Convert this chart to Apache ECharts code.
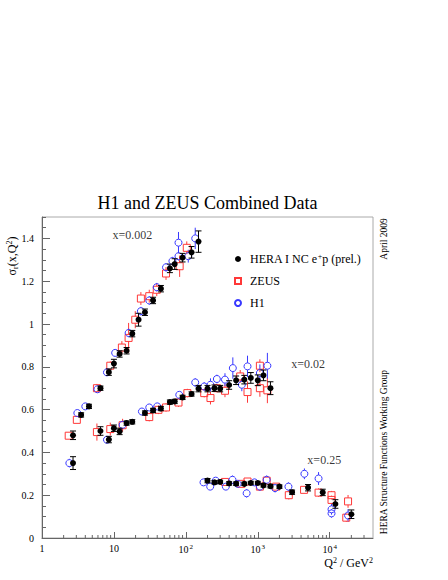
<!DOCTYPE html>
<html><head><meta charset="utf-8">
<script src="https://cdn.jsdelivr.net/npm/echarts@6/dist/echarts.min.js"></script>
<style>html,body{margin:0;padding:0;background:#fff}#c{width:448px;height:580px}</style>
</head><body><div id="c"></div>
<script>
// ---------- x = 0.002 ----------
const q2_A_hera = [2.7, 3.5, 4.5, 6.5, 8.5, 10, 12, 15, 18, 22, 27, 35, 45, 60, 70, 90, 120, 150];
const sig_A_hera = [0.48, 0.575, 0.615, 0.70, 0.775, 0.815, 0.86, 0.875, 0.955, 1.02, 1.055, 1.11, 1.165, 1.26, 1.28, 1.31, 1.335, 1.385];
const err_A_hera = [0.02, 0.01, 0.01, 0.01, 0.015, 0.02, 0.015, 0.015, 0.015, 0.03, 0.015, 0.015, 0.015, 0.02, 0.025, 0.02, 0.027, 0.05];
const q2_A_zeus = [2.35, 3.05, 5.8, 8.9, 12.9, 16, 19.8, 23.7, 31, 39.4, 53, 82, 103];
const sig_A_zeus = [0.478, 0.552, 0.70, 0.805, 0.89, 0.935, 1.02, 1.119, 1.13, 1.16, 1.236, 1.27, 1.356];
const err_A_zeus = [0.015, 0.015, 0.02, 0.02, 0.03, 0.07, 0.04, 0.03, 0.03, 0.03, 0.03, 0.05, 0.03];
const q2_A_h1 = [3.1, 4.0, 5.9, 8.0, 10.4, 16, 23.7, 31, 39.4, 53, 65, 79, 79, 108, 135];
const sig_A_h1 = [0.584, 0.615, 0.695, 0.774, 0.865, 0.958, 1.06, 1.11, 1.172, 1.265, 1.294, 1.38, 1.317, 1.317, 1.40];
const err_A_h1 = [0.01, 0.01, 0.015, 0.01, 0.015, 0.02, 0.02, 0.02, 0.02, 0.02, 0.02, 0.05, 0.02, 0.03, 0.05];
// ---------- x = 0.02 ----------
const q2_B_hera = [2.7, 6.5, 8.5, 10, 12, 15, 18, 27, 35, 45, 60, 70, 90, 120, 150, 200, 250, 300, 400, 500, 650, 800, 1000, 1200, 1500];
const sig_B_hera = [0.35, 0.50, 0.46, 0.513, 0.498, 0.537, 0.543, 0.584, 0.596, 0.605, 0.635, 0.638, 0.657, 0.673, 0.698, 0.698, 0.70, 0.698, 0.715, 0.737, 0.74, 0.748, 0.737, 0.76, 0.70];
const err_B_hera = [0.03, 0.02, 0.015, 0.015, 0.015, 0.01, 0.01, 0.01, 0.01, 0.01, 0.01, 0.01, 0.01, 0.01, 0.015, 0.015, 0.015, 0.015, 0.02, 0.02, 0.02, 0.025, 0.025, 0.025, 0.03];
const q2_B_zeus = [5.8, 8.9, 13.2, 31, 41.6, 53, 79, 105, 180, 220, 270, 350, 570, 720, 1070, 1070, 1360];
const sig_B_zeus = [0.495, 0.509, 0.527, 0.565, 0.599, 0.61, 0.633, 0.677, 0.677, 0.654, 0.70, 0.688, 0.755, 0.682, 0.805, 0.70, 0.69];
const err_B_zeus = [0.04, 0.03, 0.03, 0.02, 0.02, 0.02, 0.02, 0.02, 0.02, 0.03, 0.02, 0.03, 0.03, 0.05, 0.03, 0.04, 0.06];
const q2_B_h1 = [2.4, 8.0, 13.2, 24.5, 31, 40, 81, 135, 180, 220, 270, 350, 450, 600, 720, 1070, 1360];
const sig_B_h1 = [0.35, 0.459, 0.529, 0.591, 0.61, 0.615, 0.669, 0.727, 0.708, 0.716, 0.743, 0.74, 0.794, 0.716, 0.802, 0.771, 0.805];
const err_B_h1 = [0.02, 0.01, 0.015, 0.01, 0.01, 0.01, 0.01, 0.02, 0.02, 0.03, 0.02, 0.03, 0.05, 0.03, 0.05, 0.04, 0.06];
// ---------- x = 0.25 ----------
const q2_C_hera = [200, 250, 300, 400, 500, 650, 800, 1000, 1200, 1500, 2000, 3000, 5000, 8000, 12000, 20000];
const sig_C_hera = [0.268, 0.26, 0.262, 0.255, 0.254, 0.253, 0.257, 0.257, 0.246, 0.242, 0.24, 0.214, 0.235, 0.213, 0.159, 0.111];
const err_C_hera = [0.01, 0.008, 0.008, 0.008, 0.008, 0.008, 0.008, 0.008, 0.008, 0.008, 0.008, 0.01, 0.015, 0.015, 0.02, 0.02];
const q2_C_zeus = [350, 590, 720, 1070, 1330, 1800, 2700, 4400, 7000, 10600, 10600, 18000, 17000];
const sig_C_zeus = [0.262, 0.253, 0.264, 0.24, 0.268, 0.24, 0.20, 0.225, 0.212, 0.20, 0.178, 0.171, 0.095];
const err_C_zeus = [0.01, 0.01, 0.015, 0.01, 0.015, 0.015, 0.02, 0.015, 0.02, 0.02, 0.02, 0.03, 0.02];
const q2_C_h1 = [176, 218, 260, 360, 445, 525, 700, 900, 1070, 1330, 1740, 2670, 4450, 7000, 10600, 10600, 18000];
const sig_C_h1 = [0.26, 0.24, 0.268, 0.24, 0.272, 0.253, 0.209, 0.26, 0.24, 0.272, 0.233, 0.24, 0.30, 0.278, 0.134, 0.115, 0.105];
const err_C_h1 = [0.01, 0.015, 0.01, 0.015, 0.02, 0.015, 0.02, 0.015, 0.02, 0.02, 0.02, 0.02, 0.025, 0.03, 0.025, 0.02, 0.03];
// ---------- labels / ticks ----------
const binLabels = ['x=0.002', 'x=0.02', 'x=0.25'];
const binLabelPos = [[18, 1.418], [5000, 0.815], [8400, 0.365]];
const xMinorTicks = [2,3,4,5,6,7,8,9,20,30,40,50,60,70,80,90,200,300,400,500,600,700,800,900,2000,3000,4000,5000,6000,7000,8000,9000,20000,30000];
const legendNames = ['HERA', 'ZEUS', 'H1'];
const legendTexts = {HERA: 'HERA I NC e{sup|+}p (prel.)', ZEUS: 'ZEUS', H1: 'H1'};

function zip(q, s, e) { return q.map((v, i) => [v, s[i], e[i]]); }
const heraData = [].concat(zip(q2_A_hera, sig_A_hera, err_A_hera), zip(q2_B_hera, sig_B_hera, err_B_hera), zip(q2_C_hera, sig_C_hera, err_C_hera));
const zeusData = [].concat(zip(q2_A_zeus, sig_A_zeus, err_A_zeus), zip(q2_B_zeus, sig_B_zeus, err_B_zeus), zip(q2_C_zeus, sig_C_zeus, err_C_zeus));
const h1Data = [].concat(zip(q2_A_h1, sig_A_h1, err_A_h1), zip(q2_B_h1, sig_B_h1, err_B_h1), zip(q2_C_h1, sig_C_h1, err_C_h1));

const FONT = 'Liberation Serif';
const RED = '#ff3838', BLUE = '#3838ff';

function errBar(color, gap, cap) {
  return function (params, api) {
    const x = api.value(0), y = api.value(1), e = api.value(2);
    const c = api.coord([x, y]);
    const t = api.coord([x, y + e]);
    const b = api.coord([x, y - e]);
    const st = {stroke: color, lineWidth: 1};
    const ch = [];
    if (t[1] < c[1] - gap) ch.push({type: 'line', shape: {x1: c[0], y1: c[1] - gap, x2: c[0], y2: t[1]}, style: st});
    if (b[1] > c[1] + gap) ch.push({type: 'line', shape: {x1: c[0], y1: c[1] + gap, x2: c[0], y2: b[1]}, style: st});
    if (cap) {
      ch.push({type: 'line', shape: {x1: c[0] - 3, y1: t[1], x2: c[0] + 3, y2: t[1]}, style: st});
      ch.push({type: 'line', shape: {x1: c[0] - 3, y1: b[1], x2: c[0] + 3, y2: b[1]}, style: st});
    }
    return {type: 'group', children: ch};
  };
}

const chart = echarts.init(document.getElementById('c'), null, {renderer: 'svg'});
chart.setOption({
  animation: false,
  backgroundColor: '#fff',
  textStyle: {fontFamily: FONT},
  grid: {left: 42, right: 75, top: 217, bottom: 42, show: true, borderColor: '#aaa', borderWidth: 1},
  graphic: [
    {type: 'text', x: 207.5, y: 203, style: {text: 'H1 and ZEUS Combined Data', font: '18px "Liberation Serif"', fill: '#000', align: 'center', verticalAlign: 'middle'}},
    {type: 'text', x: 12, y: 256, rotation: Math.PI / 2, style: {text: 'σ{sub|r}(x,Q{sup|2})', font: '12px "Liberation Serif"', fill: '#000', align: 'center', verticalAlign: 'middle',
      rich: {sub: {fontSize: 8, fontFamily: FONT, padding: [6, 0, 0, 0]}, sup: {fontSize: 8, fontFamily: FONT, padding: [0, 0, 6, 0]}}}},
    {type: 'text', x: 373, y: 563, style: {text: 'Q{sup|2} / GeV{sup|2}', font: '12px "Liberation Serif"', fill: '#000', align: 'right', verticalAlign: 'middle',
      rich: {sup: {fontSize: 8, fontFamily: FONT, padding: [0, 0, 6, 0]}}}},
    {type: 'text', x: 384, y: 239, rotation: Math.PI / 2, style: {text: 'April 2009', font: '9.5px "Liberation Serif"', fill: '#000', align: 'center', verticalAlign: 'middle'}},
    {type: 'text', x: 384, y: 452, rotation: Math.PI / 2, style: {text: 'HERA Structure Functions Working Group', font: '9.5px "Liberation Serif"', fill: '#000', align: 'center', verticalAlign: 'middle'}}
  ],
  legend: {
    orient: 'vertical', left: 229, top: 247, itemWidth: 6, itemHeight: 6, itemGap: 10,
    data: legendNames.map(n => ({name: n})),
    formatter: n => legendTexts[n],
    textStyle: {fontFamily: FONT, fontSize: 12, color: '#000', padding: [0, 0, 0, 4],
      rich: {sup: {fontSize: 8, fontFamily: FONT, padding: [0, 0, 6, 0]}}},
    selectedMode: false
  },
  xAxis: {
    type: 'log', logBase: 10, min: 1, max: 40000,
    axisLine: {lineStyle: {color: '#666'}},
    axisTick: {inside: true, length: 6, lineStyle: {color: '#666'}},
    splitLine: {show: false},
    axisLabel: {fontFamily: FONT, fontSize: 10, color: '#000', margin: 5, showMaxLabel: false,
      formatter: v => { const e = Math.round(Math.log10(v)); if (e === 0) return '1'; if (e === 1) return '10'; return '10{sup|' + e + '}'; },
      rich: {sup: {fontSize: 7, fontFamily: FONT, padding: [0, 0, 6, 1]}}}
  },
  yAxis: [
    {type: 'value', min: 0, max: 1.5, interval: 0.2,
      axisLine: {show: true, lineStyle: {color: '#666'}},
      axisTick: {show: true, inside: true, length: 8, lineStyle: {color: '#666'}},
      splitLine: {show: false},
      axisLabel: {fontFamily: FONT, fontSize: 10, color: '#000', margin: 8, showMaxLabel: false}},
    {type: 'value', min: 0, max: 1.5, interval: 0.05, position: 'left',
      axisLine: {show: false},
      axisTick: {show: true, inside: true, length: 4, lineStyle: {color: '#666'}},
      splitLine: {show: false},
      axisLabel: {show: false}}
  ],
  series: [
    {name: 'xminor', type: 'custom', silent: true, data: xMinorTicks.map(v => [v]),
      encode: {x: 0},
      renderItem: (params, api) => { const p = api.coord([api.value(0), 0]);
        return {type: 'line', shape: {x1: p[0], y1: p[1], x2: p[0], y2: p[1] - 3}, style: {stroke: '#666', lineWidth: 1}}; }},
    {name: 'errZEUS', type: 'custom', silent: true, data: zeusData, encode: {x: 0, y: 1}, renderItem: errBar(RED, 3.5, false), z: 2},
    {name: 'errH1', type: 'custom', silent: true, data: h1Data, encode: {x: 0, y: 1}, renderItem: errBar(BLUE, 3.5, false), z: 2},
    {name: 'ZEUS', type: 'scatter', symbol: 'rect', symbolSize: 7, data: zeusData.map(d => [d[0], d[1]]),
      itemStyle: {color: 'rgba(255,255,255,0)', borderColor: RED, borderWidth: 1, opacity: 1}, z: 3},
    {name: 'H1', type: 'scatter', symbol: 'circle', symbolSize: 7, data: h1Data.map(d => [d[0], d[1]]),
      itemStyle: {color: 'rgba(255,255,255,0)', borderColor: BLUE, borderWidth: 1, opacity: 1}, z: 3},
    {name: 'errHERA', type: 'custom', silent: true, data: heraData, encode: {x: 0, y: 1}, renderItem: errBar('#000', 2.5, true), z: 4},
    {name: 'HERA', type: 'scatter', symbol: 'circle', symbolSize: 6, data: heraData.map(d => [d[0], d[1]]),
      itemStyle: {color: '#000', opacity: 1}, z: 5},
    {name: 'binLabels', type: 'scatter', silent: true, symbolSize: 0,
      data: binLabelPos.map((p, i) => ({value: p, name: binLabels[i]})),
      label: {show: true, position: 'inside', formatter: p => p.name, fontFamily: FONT, fontSize: 12, color: '#000'}}
  ]
});
</script></body></html>
